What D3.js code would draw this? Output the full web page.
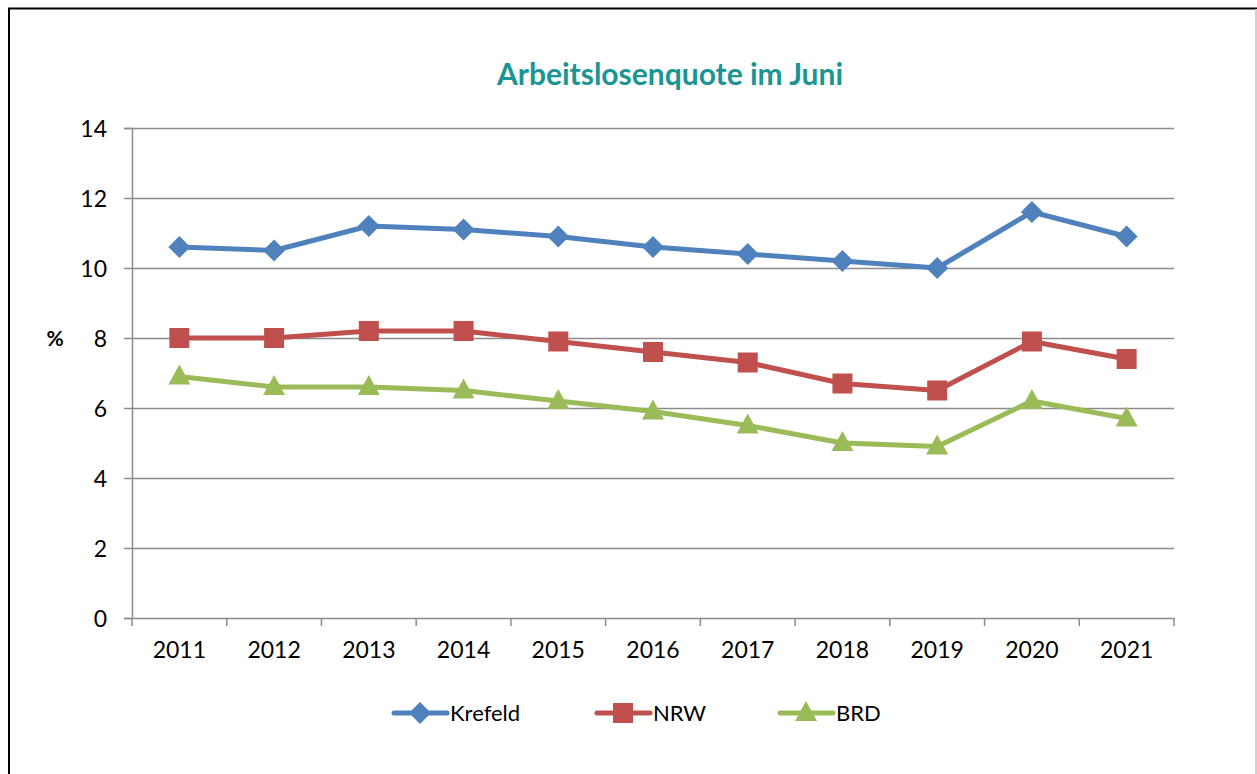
<!DOCTYPE html>
<html>
<head>
<meta charset="utf-8">
<script src="https://cdn.jsdelivr.net/npm/d3@7"></script>
<style>
  body { margin: 0; background: #fff; }
  svg { display: block; font-family: Lato, "Open Sans", sans-serif; }
</style>
</head>
<body>
<div id="chart"></div>
<script>
const years = ["2011", "2012", "2013", "2014", "2015", "2016", "2017", "2018", "2019", "2020", "2021"];
const krefeld = [10.6, 10.5, 11.2, 11.1, 10.9, 10.6, 10.4, 10.2, 10.0, 11.6, 10.9];
const nrw = [8.0, 8.0, 8.2, 8.2, 7.9, 7.6, 7.3, 6.7, 6.5, 7.9, 7.4];
const brd = [6.9, 6.6, 6.6, 6.5, 6.2, 5.9, 5.5, 5.0, 4.9, 6.2, 5.7];
const yTicks = [0, 2, 4, 6, 8, 10, 12, 14];

const series = [
  { name: "Krefeld", values: krefeld, color: "#4F81BD", shape: "diamond" },
  { name: "NRW", values: nrw, color: "#C0504D", shape: "square" },
  { name: "BRD", values: brd, color: "#9BBB59", shape: "triangle" }
];

const W = 1257, H = 774;
const plot = { left: 132, right: 1174, top: 128, bottom: 618 };

const svg = d3.select("#chart").append("svg")
  .attr("width", W).attr("height", H);

// outer frame
svg.append("path")
  .attr("d", `M9,${H + 2} L9,8.5 L1256,8.5 L1256,${H + 2}`)
  .attr("fill", "none").attr("stroke", "#000").attr("stroke-width", 2);
svg.append("line")
  .attr("x1", 1256).attr("x2", 1256).attr("y1", 9).attr("y2", H)
  .attr("stroke", "#d0d0d0").attr("stroke-width", 2);

const x = d3.scaleBand().domain(years).range([plot.left, plot.right]);
const y = d3.scaleLinear().domain([0, 14]).range([plot.bottom, plot.top]);

// title
svg.append("text")
  .attr("x", 670).attr("y", 85)
  .attr("text-anchor", "middle")
  .attr("fill", "#1A9593")
  .style("font-size", "30px").style("font-weight", "bold")
  .text("Arbeitslosenquote im Juni");

// gridlines
svg.append("g").selectAll("line")
  .data(yTicks.filter(d => d > 0))
  .join("line")
  .attr("x1", plot.left).attr("x2", plot.right)
  .attr("y1", d => y(d) + 0.5).attr("y2", d => y(d) + 0.5)
  .attr("stroke", "#8c8c8c").attr("stroke-width", 1.5);

// y axis
const yAxis = svg.append("g")
  .attr("transform", `translate(${plot.left},0)`)
  .call(d3.axisLeft(y).tickValues(yTicks).tickSize(8).tickPadding(17));
// x axis
const xAxis = svg.append("g")
  .attr("transform", `translate(0,${plot.bottom})`)
  .call(d3.axisBottom(x).tickSize(0).tickPadding(24));

[yAxis, xAxis].forEach(g => {
  g.select(".domain").attr("stroke", "#8c8c8c").attr("stroke-width", 1.5);
  g.selectAll(".tick line").attr("stroke", "#8c8c8c").attr("stroke-width", 1.5);
  g.selectAll("text").attr("fill", "#000").style("font-size", "23px")
    .style("font-family", "Lato, 'Open Sans', sans-serif");
});
yAxis.selectAll("text").attr("dy", "0.35em");

// x tick marks at band boundaries
const bounds = years.map(d => x(d)).concat([plot.right]);
svg.append("g").selectAll("line")
  .data(bounds)
  .join("line")
  .attr("x1", d => d).attr("x2", d => d)
  .attr("y1", plot.bottom).attr("y2", plot.bottom + 8)
  .attr("stroke", "#8c8c8c").attr("stroke-width", 1.5);

// y label
svg.append("text")
  .attr("x", 55).attr("y", 346)
  .attr("text-anchor", "middle")
  .style("font-size", "21px").style("font-weight", "bold")
  .text("%");

function marker(sel, shape, color) {
  if (shape === "diamond") {
    sel.append("path").attr("d", "M0,-11 L11,0 L0,11 L-11,0 Z").attr("fill", color);
  } else if (shape === "square") {
    sel.append("rect").attr("x", -10).attr("y", -10).attr("width", 20).attr("height", 20).attr("fill", color);
  } else {
    sel.append("path").attr("d", "M0,-12 L11,8 L-11,8 Z").attr("fill", color);
  }
}

const line = d3.line()
  .x((d, i) => x(years[i]) + x.bandwidth() / 2)
  .y(d => y(d));

series.forEach(s => {
  const g = svg.append("g");
  g.append("path")
    .attr("d", line(s.values))
    .attr("fill", "none").attr("stroke", s.color)
    .attr("stroke-width", 5).attr("stroke-linejoin", "round");
  s.values.forEach((v, i) => {
    const m = g.append("g")
      .attr("transform", `translate(${x(years[i]) + x.bandwidth() / 2},${y(v)})`);
    marker(m, s.shape, s.color);
  });
});

// legend
const legendX = [394, 597, 780];
series.forEach((s, i) => {
  const g = svg.append("g").attr("transform", `translate(${legendX[i]},713)`);
  g.append("line").attr("x1", 0).attr("x2", 53)
    .attr("stroke", s.color).attr("stroke-width", 5).attr("stroke-linecap", "round");
  const m = g.append("g").attr("transform", "translate(26,0)");
  marker(m, s.shape, s.color);
  g.append("text").attr("x", 56).attr("dy", "0.35em")
    .style("font-size", "22px").text(s.name);
});
</script>
</body>
</html>
